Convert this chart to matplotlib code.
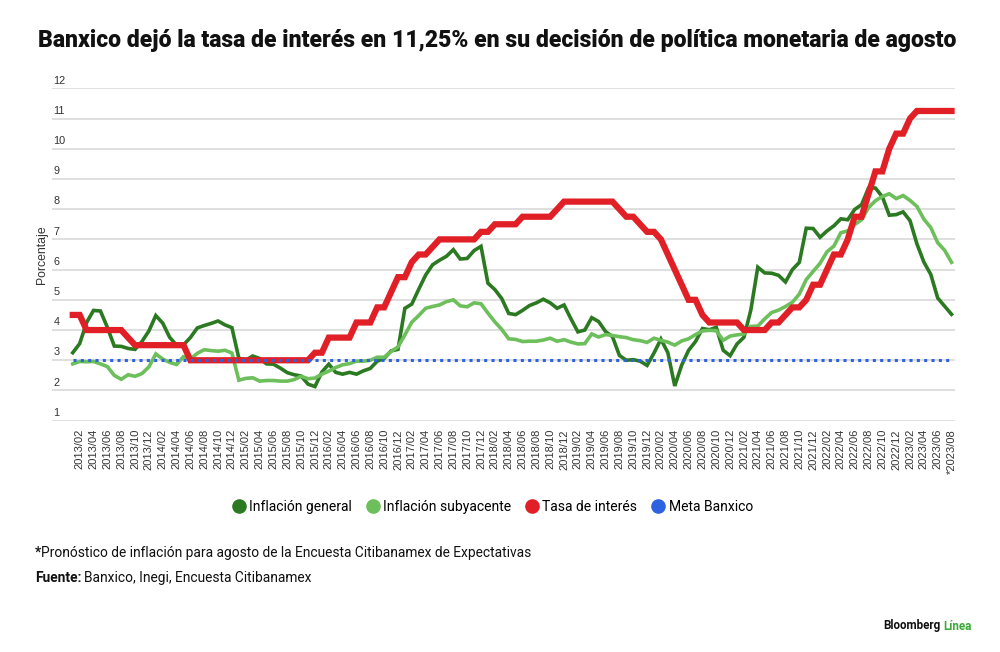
import numpy as np
import matplotlib.pyplot as plt
from matplotlib.lines import Line2D

# monthly series, 2013/01 .. 2023/08 (last month = forecast)
months = [f"{y}/{m:02d}" for y in range(2013, 2024) for m in range(1, 13)][:128]

inflacion_general = [
    3.25, 3.55, 4.25, 4.65, 4.63, 4.09, 3.47, 3.46, 3.39, 3.36, 3.62, 3.97,
    4.48, 4.23, 3.76, 3.50, 3.51, 3.75, 4.07, 4.15, 4.22, 4.30, 4.17, 4.08,
    3.07, 3.00, 3.14, 3.06, 2.88, 2.87, 2.74, 2.59, 2.52, 2.48, 2.21, 2.13,
    2.61, 2.87, 2.60, 2.54, 2.60, 2.54, 2.65, 2.73, 2.97, 3.06, 3.31, 3.36,
    4.72, 4.86, 5.35, 5.82, 6.16, 6.31, 6.44, 6.66, 6.35, 6.37, 6.63, 6.77,
    5.55, 5.34, 5.04, 4.55, 4.51, 4.65, 4.81, 4.90, 5.02, 4.90, 4.72, 4.83,
    4.37, 3.94, 4.00, 4.41, 4.28, 3.95, 3.78, 3.16, 3.00, 3.02, 2.97, 2.83,
    3.24, 3.70, 3.25, 2.15, 2.84, 3.33, 3.62, 4.05, 4.01, 4.09, 3.33, 3.15,
    3.54, 3.76, 4.67, 6.08, 5.89, 5.88, 5.81, 5.59, 6.00, 6.24, 7.37, 7.36,
    7.07, 7.28, 7.45, 7.68, 7.65, 7.99, 8.15, 8.70, 8.70, 8.41, 7.80, 7.82,
    7.91, 7.62, 6.85, 6.25, 5.84, 5.06, 4.79, 4.52,
]

inflacion_subyacente = [
    2.88, 2.96, 2.95, 2.96, 2.88, 2.79, 2.50, 2.37, 2.52, 2.47, 2.56, 2.78,
    3.21, 3.04, 2.93, 2.86, 3.12, 3.04, 3.23, 3.35, 3.32, 3.30, 3.33, 3.24,
    2.34, 2.40, 2.42, 2.31, 2.33, 2.33, 2.31, 2.31, 2.36, 2.47, 2.39, 2.41,
    2.54, 2.64, 2.76, 2.85, 2.89, 2.97, 2.97, 3.00, 3.10, 3.10, 3.29, 3.44,
    3.84, 4.26, 4.48, 4.72, 4.78, 4.83, 4.94, 5.00, 4.80, 4.77, 4.90, 4.87,
    4.56, 4.27, 4.02, 3.71, 3.69, 3.62, 3.63, 3.63, 3.67, 3.73, 3.63, 3.68,
    3.60, 3.54, 3.55, 3.87, 3.77, 3.85, 3.82, 3.78, 3.75, 3.68, 3.65, 3.59,
    3.73, 3.66, 3.60, 3.50, 3.64, 3.71, 3.85, 3.97, 3.99, 3.98, 3.66, 3.80,
    3.84, 3.87, 4.12, 4.13, 4.37, 4.58, 4.66, 4.78, 4.92, 5.19, 5.67, 5.94,
    6.21, 6.59, 6.78, 7.22, 7.28, 7.49, 7.65, 8.05, 8.28, 8.42, 8.51, 8.35,
    8.45, 8.29, 8.09, 7.67, 7.39, 6.89, 6.64, 6.24,
]

tasa_interes = [
    4.50, 4.50, 4.00, 4.00, 4.00, 4.00, 4.00, 4.00, 3.75, 3.50, 3.50, 3.50,
    3.50, 3.50, 3.50, 3.50, 3.50, 3.00, 3.00, 3.00, 3.00, 3.00, 3.00, 3.00,
    3.00, 3.00, 3.00, 3.00, 3.00, 3.00, 3.00, 3.00, 3.00, 3.00, 3.00, 3.25,
    3.25, 3.75, 3.75, 3.75, 3.75, 4.25, 4.25, 4.25, 4.75, 4.75, 5.25, 5.75,
    5.75, 6.25, 6.50, 6.50, 6.75, 7.00, 7.00, 7.00, 7.00, 7.00, 7.00, 7.25,
    7.25, 7.50, 7.50, 7.50, 7.50, 7.75, 7.75, 7.75, 7.75, 7.75, 8.00, 8.25,
    8.25, 8.25, 8.25, 8.25, 8.25, 8.25, 8.25, 8.00, 7.75, 7.75, 7.50, 7.25,
    7.25, 7.00, 6.50, 6.00, 5.50, 5.00, 5.00, 4.50, 4.25, 4.25, 4.25, 4.25,
    4.25, 4.00, 4.00, 4.00, 4.00, 4.25, 4.25, 4.50, 4.75, 4.75, 5.00, 5.50,
    5.50, 6.00, 6.50, 6.50, 7.00, 7.75, 7.75, 8.50, 9.25, 9.25, 10.00, 10.50,
    10.50, 11.00, 11.25, 11.25, 11.25, 11.25, 11.25, 11.25,
]

meta_banxico = [3.0] * len(months)

y_ticks = [1, 2, 3, 4, 5, 6, 7, 8, 9, 10, 11, 12]
tick_labels = months[1::2]
tick_labels[-1] = "*" + tick_labels[-1]

title = "Banxico dejó la tasa de interés en 11,25% en su decisión de política monetaria de agosto"
series_names = ["Inflación general", "Inflación subyacente", "Tasa de interés", "Meta Banxico"]
colors = ["#2b7a22", "#6cbf5a", "#e01f26", "#2d62e0"]

W, H = 1000, 652
fig = plt.figure(figsize=(W / 100, H / 100), dpi=100)
ax = fig.add_axes([52 / W, 1 - 420.7 / H, 903 / W, (420.7 - 88.3) / H])

x = np.arange(len(months))
ax.plot(x, inflacion_general, color=colors[0], lw=2.6, solid_joinstyle="miter")
ax.plot(x, inflacion_subyacente, color=colors[1], lw=2.6, solid_joinstyle="miter")
ax.plot(x, tasa_interes, color=colors[2], lw=4.5, solid_joinstyle="miter")
ax.plot(x, meta_banxico, color=colors[3], lw=2.2, linestyle=(0, (1, 1.4)),
        dash_capstyle="butt")

ax.set_xlim(-3, 127.5)
ax.set_ylim(1, 12)
for s in ax.spines.values():
    s.set_visible(False)
ax.set_yticks(y_ticks)
ax.yaxis.grid(True, color="#d6d6d6", lw=1.1)
ax.set_axisbelow(True)
ax.tick_params(axis="y", length=0, labelleft=False)
for v in y_ticks:
    ax.annotate(str(v), xy=(0, v), xycoords=("axes fraction", "data"),
                xytext=(1, 2), textcoords="offset points", va="bottom", ha="left",
                fontsize=7.8, color="#333333", family="Liberation Sans")

ax.set_xticks(x[1::2])
ax.set_xticklabels(tick_labels, rotation=90, fontsize=8, color="#333333",
                   family="Liberation Sans")
ax.tick_params(axis="x", length=0, pad=6)

fig.text(42 / W, 1 - 255 / H, "Porcentaje", rotation=90, ha="center", va="center",
         fontsize=8.8, color="#333333", family="Liberation Sans")

t = fig.text(497 / W, 1 - 40 / H, title, ha="center", va="center",
             fontsize=15.5, fontweight="black", color="#111111", family="Roboto")
fig.canvas.draw()
w = t.get_window_extent().width
t.set_fontsize(15.5 * 920 / w)

handles = [Line2D([], [], lw=0, marker="o", markersize=9.5, color=c) for c in colors]
fig.legend(handles, series_names, loc="center", bbox_to_anchor=(493 / W, 1 - 507 / H),
           ncol=4, frameon=False, handletextpad=0.35, columnspacing=1.1,
           handlelength=0.8, prop={"family": "Roboto", "size": 10})

fs = 9.9
fig.text(35 / W, 1 - 553 / H, "*", fontweight="bold", fontsize=fs, family="Roboto",
         va="center", color="#111111")
fig.text(41 / W, 1 - 553 / H,
         "Pronóstico de inflación para agosto de la Encuesta Citibanamex de Expectativas",
         fontsize=fs, family="Roboto", va="center", color="#111111")
f1 = fig.text(35 / W, 1 - 578 / H, "Fuente:", fontweight="bold", fontsize=fs,
              family="Roboto", va="center", color="#111111")
fig.canvas.draw()
fx = f1.get_window_extent().x1
fig.text(fx / W + 3 / W, 1 - 578 / H, "Banxico, Inegi, Encuesta Citibanamex",
         fontsize=fs, family="Roboto", va="center", color="#111111")

b = fig.text(883 / W, 1 - 626 / H, "Bloomberg", fontweight="bold", fontsize=8.4,
             family="Roboto", va="center", color="#111111")
fig.canvas.draw()
bx = b.get_window_extent().x1
fig.text(bx / W + 3 / W, 1 - 626 / H, "Línea", fontweight="bold", fontsize=8.4,
         family="Roboto", va="center", color="#3aaa35")

fig.savefig("out.png", dpi=100)
